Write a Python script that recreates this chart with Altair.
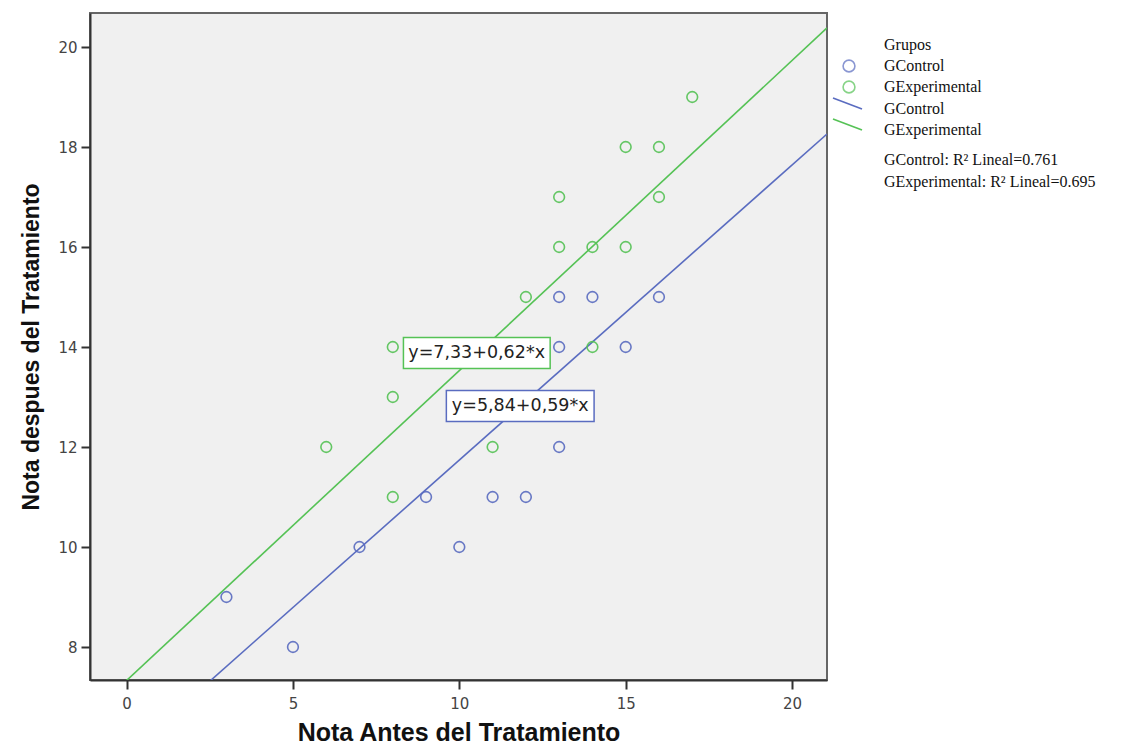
import altair as alt
import pandas as pd

# ---- data ----
ctrl_x = [3, 5, 7, 9, 10, 11, 12, 13, 13, 13, 14, 15, 16]
ctrl_y = [9, 8, 10, 11, 10, 11, 11, 12, 14, 15, 15, 14, 15]
exp_x = [6, 8, 8, 8, 11, 12, 13, 13, 14, 14, 15, 15, 16, 16, 17]
exp_y = [12, 11, 13, 14, 12, 15, 16, 17, 14, 16, 16, 18, 17, 18, 19]

groups = ["GControl", "GExperimental"]
intercepts = [5.84, 7.33]
slopes = [0.59, 0.62]
eq_labels = ["y=5,84+0,59*x", "y=7,33+0,62*x"]
eq_x = [11.83, 10.52]
eq_y = [12.82, 13.88]
eq_x1 = [9.61, 8.32]
eq_x2 = [14.05, 12.73]
eq_y1 = [12.51, 13.57]
eq_y2 = [13.13, 14.19]
r2_values = ["0.761", "0.695"]

x_domain = [-1.1, 21.05]
y_domain = [7.34, 20.68]
x_ticks = [0, 5, 10, 15, 20]
y_ticks = [8, 10, 12, 14, 16, 18, 20]

colors = ["#5a6cc0", "#55c255"]

pts = pd.DataFrame(
    {"x": ctrl_x + exp_x, "y": ctrl_y + exp_y,
     "g": [groups[0]] * len(ctrl_x) + [groups[1]] * len(exp_x)}
)
lines = pd.DataFrame(
    [{"g": g, "a": a, "b": b, "x": xv}
     for g, a, b in zip(groups, intercepts, slopes) for xv in x_domain]
)
eqs = pd.DataFrame({"g": groups, "label": eq_labels, "x": eq_x, "y": eq_y,
                    "x1": eq_x1, "x2": eq_x2, "y1": eq_y1, "y2": eq_y2})

W, H = 737, 667
xs = alt.Scale(domain=x_domain, nice=False, zero=False)
ys = alt.Scale(domain=y_domain, nice=False, zero=False)
cs = alt.Scale(domain=groups, range=colors)

xax = alt.Axis(values=x_ticks, grid=False, tickSize=9, tickWidth=2, tickColor="#333",
               domainColor="#333", domainWidth=2, labelFont="DejaVu Sans",
               labelFontSize=15, labelColor="#444", labelPadding=7,
               title="Nota Antes del Tratamiento", titleFont="Liberation Sans",
               titleFontSize=25, titleFontWeight="bold", titleColor="#111",
               titlePadding=9)
yax = alt.Axis(values=y_ticks, grid=False, tickSize=9, tickWidth=2, tickColor="#333",
               domainColor="#333", domainWidth=2, labelFont="DejaVu Sans",
               labelFontSize=15, labelColor="#444", labelPadding=4,
               title="Nota despues del Tratamiento", titleFont="Liberation Sans",
               titleFontSize=23, titleFontWeight="bold", titleColor="#111",
               titlePadding=14)

base_lines = alt.Chart(lines).transform_calculate(
    yv="datum.a + datum.b * datum.x"
).mark_line(clip=True, strokeWidth=1.6).encode(
    x=alt.X("x:Q", scale=xs, axis=xax),
    y=alt.Y("yv:Q", scale=ys, axis=yax),
    color=alt.Color("g:N", scale=cs, legend=None),
    detail="g:N",
)

points = alt.Chart(pts).mark_point(shape="circle", filled=False, size=115,
                                   strokeWidth=1.6, opacity=0.9).encode(
    x=alt.X("x:Q", scale=xs),
    y=alt.Y("y:Q", scale=ys),
    color=alt.Color("g:N", scale=cs, legend=None),
)

boxes = alt.Chart(eqs).mark_rect(fill="white", strokeWidth=1.5).encode(
    x=alt.X("x1:Q", scale=xs), x2="x2:Q",
    y=alt.Y("y1:Q", scale=ys), y2="y2:Q",
    stroke=alt.Stroke("g:N", scale=cs, legend=None),
)
eq_text = alt.Chart(eqs).mark_text(font="DejaVu Sans", fontSize=17.5,
                                   color="#222", align="center",
                                   baseline="middle").encode(
    x=alt.X("x:Q", scale=xs), y=alt.Y("y:Q", scale=ys), text="label:N"
)

# ---- legend (drawn to the right of the plot) ----
leg_text = ["Grupos"] + groups + groups + [f"{g}: R\u00b2 Lineal={r}" for g, r in zip(groups, r2_values)]
leg_df = pd.DataFrame({"t": leg_text, "i": list(range(len(leg_text)))})
LX = 794
leg_rows = [32, 53, 74, 96, 117, 147, 169]
leg_df["py"] = leg_rows
legend_text = alt.Chart(leg_df).mark_text(
    font="Liberation Serif", fontSize=16, color="#111", align="left",
    baseline="middle").encode(
    x=alt.value(LX), y=alt.Y("py:Q", scale=None), text="t:N")

sym_df = pd.DataFrame({"g": groups, "py": leg_rows[1:3]})
legend_sym = alt.Chart(sym_df).mark_point(shape="circle", filled=False, size=140,
                                          strokeWidth=1.6).encode(
    x=alt.value(759), y=alt.Y("py:Q", scale=None),
    color=alt.Color("g:N", scale=cs, legend=None))

ln_df = pd.DataFrame({"g": groups, "py": leg_rows[3:5]})
legend_ln = alt.Chart(ln_df).transform_calculate(
    y1="datum.py - 11", y2="datum.py", x1="743", x2="772"
).mark_rule(strokeWidth=1.6).encode(
    x=alt.X("x1:Q", scale=None), x2="x2:Q",
    y=alt.Y("y1:Q", scale=None), y2="y2:Q",
    color=alt.Color("g:N", scale=cs, legend=None))

chart = alt.layer(base_lines, points, boxes, eq_text,
                  legend_text, legend_sym, legend_ln).properties(
    width=W, height=H,
    padding={"left": 12, "top": 5, "right": 5, "bottom": 0},
    background="white",
).configure_view(fill="#f0f0f0", stroke="#666", strokeWidth=2)

chart.save("out.html", embed_options={"renderer": "svg", "actions": False})
